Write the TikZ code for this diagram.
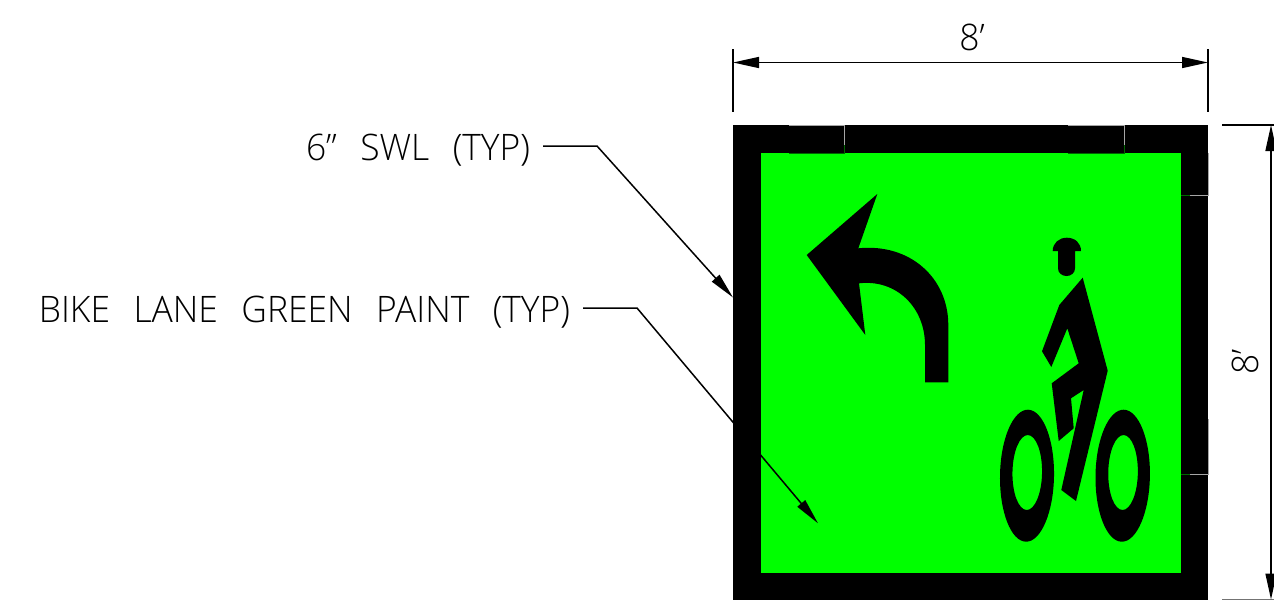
\documentclass[tikz,border=0pt]{standalone}
\usepackage{fontspec}
\usetikzlibrary{arrows.meta}
\newfontfamily\cadfont[FakeStretch=0.97,WordSpace=2.55]{Open Sans Light}
\definecolor{paint}{RGB}{0,255,0}
\tikzset{
  cadtext/.style={font=\cadfont\fontsize{36.5}{36.5}\selectfont,text=black,inner sep=0pt},
  calllabel/.style={cadtext,text height=28pt,text depth=0pt,outer xsep=13pt},
  thinline/.style={line width=1.5pt,black},
  leader/.style={thinline,-{Triangle[length=26pt,width=10pt]}},
  dimline/.style={thinline,{Triangle[length=26pt,width=11pt]}-{Triangle[length=26pt,width=11pt]}},
  seam/.style={line width=0.4pt,black!35},
  seamin/.style={line width=0.4pt,black!60!paint},
  glyph/.style={fill=black,draw=none}
}
\begin{document}
\begin{tikzpicture}[x=1pt,y=-1pt]
\useasboundingbox (0,0) rectangle (1274,600);
% panel
\fill[black] (733,125) rectangle (1208,600);
\fill[paint] (761,153) rectangle (1181,573);
% seams
\draw[seam] (789,125) -- (844,125) -- (844,145);
\draw[seamin] (844,145) -- (844,153) -- (789,153);
\draw[seam] (1068,125) -- (1124,125) -- (1124,145);
\draw[seamin] (1124,145) -- (1124,153) -- (1068,153);
\draw[seam] (1208,153) -- (1208,195) -- (1190,195);
\draw[seamin] (1190,195) -- (1181,195);
\draw[seam] (1208,419) -- (1208,474) -- (1190,474);
\draw[seamin] (1190,474) -- (1181,474);
% turn arrow
\fill[glyph] (806.7,255) -- (877.3,194) -- (858.3,248.3)
  .. controls (910,243) and (948.3,278) .. (948.3,325)
  -- (948.3,382.3) -- (925,382.3) -- (925,345)
  .. controls (925,308) and (897,279) .. (859,283.3)
  -- (865.3,335) -- cycle;
% cyclist
\fill[glyph] (1052.7,251) .. controls (1052.7,243) and (1059,237.7) .. (1066.8,237.7)
  .. controls (1075,237.7) and (1081,243) .. (1081,251)
  -- (1075,251) -- (1075,268.3)
  .. controls (1075,273) and (1071,276) .. (1066.5,276)
  .. controls (1062,276) and (1058,273) .. (1058,268.3)
  -- (1058,251) -- cycle;
\fill[glyph] (1082.7,277.7) -- (1107.7,370.7) -- (1076,501) -- (1061.3,490)
  -- (1083.7,390) -- (1071,398.3) -- (1073.7,428.3) -- (1058.7,441)
  -- (1051.7,383.3) -- (1078.7,363.3) -- (1067.3,328.3) -- (1051.3,367)
  -- (1042,351.3) -- (1059.3,305) -- cycle;
\fill[glyph,even odd rule]
  [rotate around={-0.9:(1027,475.7)}] (1027,475.7) ellipse [x radius=27,y radius=66]
  (1027.2,472.5) ellipse [x radius=14.8,y radius=37.5];
\fill[glyph,even odd rule]
  [rotate around={-0.9:(1122.7,475.7)}] (1122.7,475.7) ellipse [x radius=27.2,y radius=66]
  (1123,472.5) ellipse [x radius=14.8,y radius=37.5];
% dimensions
\coordinate (hl) at (733,62.5);
\coordinate (hr) at (1208,62.5);
\coordinate (hlt) at (733,49);
\coordinate (hlb) at (733,112);
\coordinate (hrt) at (1208,49);
\coordinate (hrb) at (1208,112);
\draw[thinline] (hlt) -- (hlb);
\draw[thinline] (hrt) -- (hrb);
\draw[dimline] (hl) -- (hr);
\node[cadtext,anchor=base] (dimw) at (972,50) {8’};
\coordinate (vt) at (1271,125);
\coordinate (vb) at (1271,599.5);
\coordinate (vtl) at (1222,125);
\coordinate (vtr) at (1274,125);
\coordinate (vbl) at (1222,599.5);
\coordinate (vbr) at (1274,599.5);
\draw[thinline] (vtl) -- (vtr);
\draw[line width=1pt,black!55] (vbl) -- (vbr);
\draw[dimline] (vt) -- (vb);
\node[cadtext,anchor=base,rotate=90] (dimh) at (1258,362) {8’};
% callouts
\node[calllabel,anchor=base east] (swl) at (543,160) {6”\ SWL (TYP)};
\coordinate (swlk) at (597,146);
\coordinate (swlt) at (733,297.5);
\draw[leader] (swl.east) -- (swlk) -- (swlt);
\node[calllabel,anchor=base east] (bike) at (583,322) {BIKE LANE GREEN PAINT (TYP)};
\coordinate (bikek) at (637,308);
\coordinate (biket) at (818,523.3);
\draw[leader] (bike.east) -- (bikek) -- (biket);
\end{tikzpicture}
\end{document}
